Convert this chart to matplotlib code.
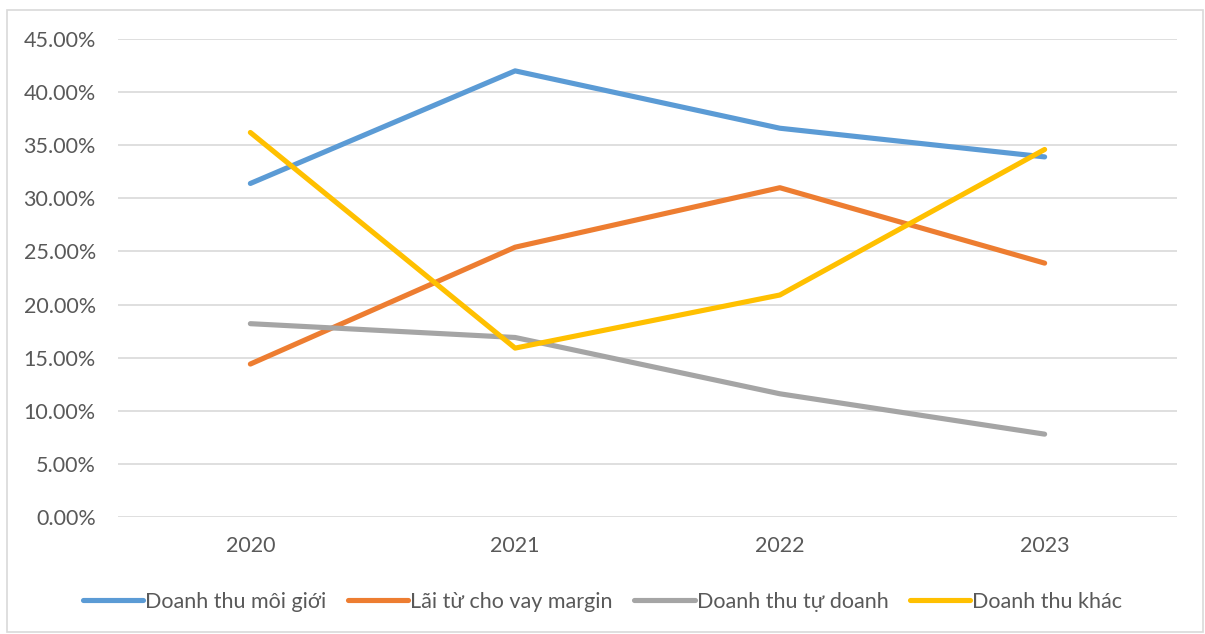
import matplotlib.pyplot as plt
from matplotlib.patches import Rectangle
from matplotlib.ticker import PercentFormatter

years = ["2020", "2021", "2022", "2023"]
moi_gioi = [31.4, 42.0, 36.6, 33.9]
margin = [14.4, 25.4, 31.0, 23.9]
tu_doanh = [18.2, 16.9, 11.6, 7.8]
khac = [36.2, 15.9, 20.9, 34.6]

series = [
    ("Doanh thu môi giới", moi_gioi, "#5B9BD5"),
    ("Lãi từ cho vay margin", margin, "#ED7D31"),
    ("Doanh thu tự doanh", tu_doanh, "#A5A5A5"),
    ("Doanh thu khác", khac, "#FFC000"),
]

plt.rcParams["font.family"] = ["Lato", "DejaVu Sans"]

fig = plt.figure(figsize=(12.05, 6.34), dpi=100)
ax = fig.add_axes([118 / 1205, 1 - 517 / 634, 1059 / 1205, 478 / 634])

x = range(len(years))
for name, vals, col in series:
    ax.plot(x, vals, color=col, lw=3.7, label=name, solid_capstyle="round",
            solid_joinstyle="round", zorder=3)

ax.set_xlim(-0.5, 3.5)
ax.set_ylim(0, 45)
ax.set_yticks(range(0, 46, 5))
ax.yaxis.set_major_formatter(PercentFormatter(decimals=2))
ax.set_xticks(list(x))
ax.set_xticklabels(years)
ax.grid(axis="y", color="#D9D9D9", lw=1.2)
ax.set_axisbelow(True)
for s in ax.spines.values():
    s.set_visible(False)
ax.tick_params(length=0, labelsize=15.5, colors="#595959")
ax.tick_params(axis="x", pad=14)
ax.tick_params(axis="y", pad=16)

fig.legend(loc="center", bbox_to_anchor=(0.5, 1 - 602 / 634), ncol=4, frameon=False,
           fontsize=15.5, labelcolor="#595959", handlelength=2.8, handletextpad=0.1,
           columnspacing=1.0)

fig.patches.append(Rectangle((7 / 1205, 2 / 634), 1196 / 1205, 622 / 634,
                             transform=fig.transFigure, fill=False,
                             edgecolor="#D9D9D9", lw=1.2))

fig.savefig("out.png", dpi=100)
